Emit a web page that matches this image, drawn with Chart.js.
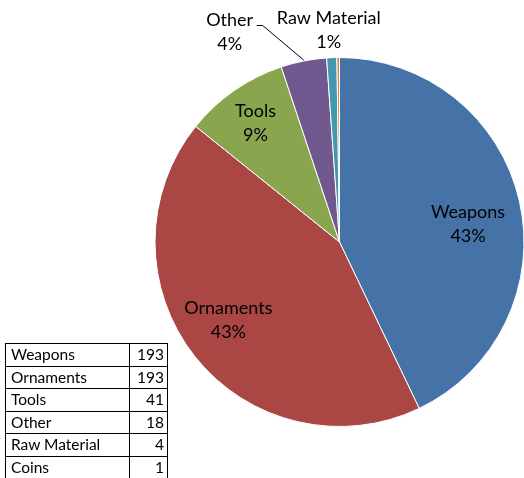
<!DOCTYPE html>
<html>
<head>
<meta charset="utf-8">
<script src="https://cdn.jsdelivr.net/npm/chart.js@4/dist/chart.umd.min.js"></script>
<style>
  html, body { margin: 0; padding: 0; background: #fff; overflow: hidden; width: 524px; height: 478px; }
  #wrap { position: absolute; left: 0; top: 0; width: 679px; height: 478px; }
  #tabla {
    position: absolute; left: 5px; top: 343px; width: 162px;
    border-collapse: collapse; table-layout: fixed;
    font-family: Lato, "Noto Sans", sans-serif; font-size: 15.5px; color: #000;
  }
  #tabla td { border: 1px solid #000; height: 21.5px; padding: 0 4px 0 5px; line-height: 21px; white-space: nowrap; }
  #tabla td.num { text-align: right; padding-right: 3px; }
</style>
</head>
<body>
<div id="wrap"><canvas id="meuGrafico" width="679" height="478"></canvas></div>
<table id="tabla"><colgroup><col style="width:124px"><col style="width:38px"></colgroup><tbody></tbody></table>
<script>
const categorias = ["Weapons", "Ornaments", "Tools", "Other", "Raw Material", "Coins"];
const valores = [193, 193, 41, 18, 4, 1];
const cores = ["#4572A7", "#AA4643", "#89A54E", "#71588F", "#4198AF", "#DB843D"];

// onde cada rotulo vai: dentro da fatia (r = fracao do raio + ajuste) ou fora com deslocamento
const rotulos = [
    { r: 0.72, dx: -1, dy: 12 },
    { r: 0.72, dx: -7, dy: -4 },
    { r: 0.75, dx: -5, dy: -5 },
    { fora: true, dx: -74, dy: -29, linha: true },
    { fora: true, dx: -3, dy: -27 },
    null,
];

const total = valores.reduce((a, b) => a + b, 0);

const tbody = document.querySelector("#tabla tbody");
categorias.forEach((c, i) => {
    const tr = document.createElement("tr");
    tr.innerHTML = `<td>${c}</td><td class="num">${valores[i]}</td>`;
    tbody.appendChild(tr);
});

const rotuloPlugin = {
    id: "rotulos",
    afterDatasetsDraw(chart) {
        const ctx = chart.ctx;
        const arcs = chart.getDatasetMeta(0).data;
        ctx.save();
        ctx.font = "18px Lato, 'Noto Sans', sans-serif";
        ctx.fillStyle = "#000";
        ctx.textAlign = "center";
        ctx.textBaseline = "middle";
        arcs.forEach((arc, i) => {
            const cfg = rotulos[i];
            if (!cfg) return;
            const mid = (arc.startAngle + arc.endAngle) / 2;
            const pct = Math.round(valores[i] / total * 100) + "%";
            let x, y;
            if (cfg.fora) {
                const ex = arc.x + Math.cos(mid) * arc.outerRadius;
                const ey = arc.y + Math.sin(mid) * arc.outerRadius;
                x = ex + cfg.dx;
                y = ey + cfg.dy;
                if (cfg.linha) {
                    ctx.beginPath();
                    ctx.strokeStyle = "#000";
                    ctx.lineWidth = 1;
                    ctx.moveTo(x + 27, y - 6.5);
                    ctx.lineTo(x + 33, y - 6.5);
                    ctx.lineTo(ex, ey - 1);
                    ctx.stroke();
                }
            } else {
                x = arc.x + Math.cos(mid) * arc.outerRadius * cfg.r + cfg.dx;
                y = arc.y + Math.sin(mid) * arc.outerRadius * cfg.r + cfg.dy;
            }
            ctx.fillText(categorias[i], x, y - 12);
            ctx.fillText(pct, x, y + 12);
        });
        ctx.restore();
    },
};

const config = {
    type: "pie",
    data: {
        labels: categorias,
        datasets: [{
            data: valores,
            backgroundColor: cores,
            borderColor: "#fff",
            borderWidth: 1,
        }],
    },
    options: {
        responsive: false,
        animation: false,
        layout: { padding: { top: 57, bottom: 51, left: 0, right: 0 } },
        plugins: {
            legend: { display: false },
            tooltip: { enabled: false },
        },
    },
    plugins: [rotuloPlugin],
};

new Chart(document.getElementById("meuGrafico"), config);
</script>
</body>
</html>
